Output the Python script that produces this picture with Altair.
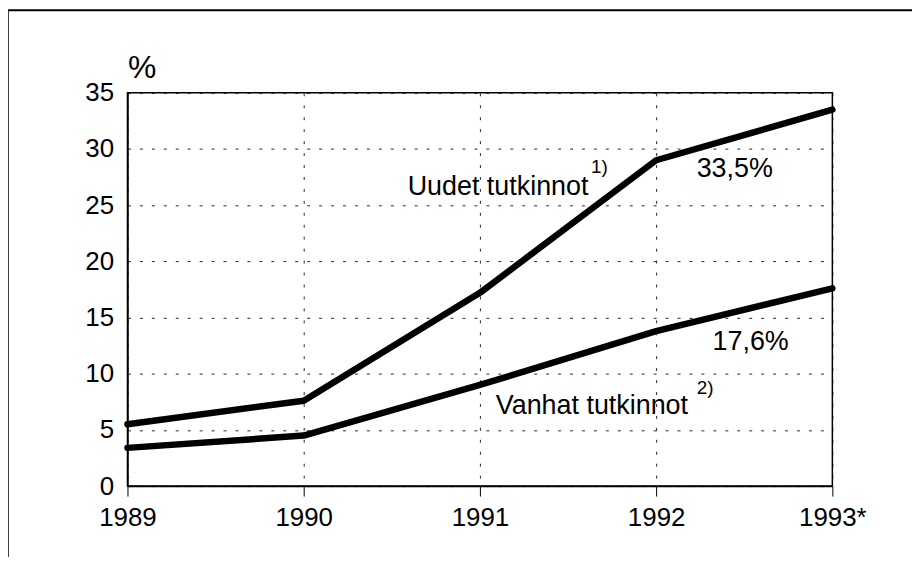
import altair as alt
import pandas as pd

years = [1989, 1990, 1991, 1992, 1993]
uudet = [5.5, 7.6, 17.2, 29.0, 33.5]
vanhat = [3.4, 4.5, 9.0, 13.8, 17.6]
y_ticks = [0, 5, 10, 15, 20, 25, 30, 35]

ann_text = ["Uudet tutkinnot", "33,5%", "Vanhat tutkinnot", "17,6%"]
ann_x = [1990.59, 1992.23, 1991.09, 1992.32]
ann_y = [25.9, 27.5, 6.4, 12.1]
sup_text = ["1)", "2)"]
sup_x = [1991.63, 1992.23]
sup_y = [27.9, 8.2]

FONT = "Liberation Sans"

df = pd.DataFrame({
    "year": years * 2,
    "value": uudet + vanhat,
    "series": ["Uudet tutkinnot"] * len(years) + ["Vanhat tutkinnot"] * len(years),
})
ann = pd.DataFrame({"text": ann_text, "x": ann_x, "y": ann_y})
sup = pd.DataFrame({"text": sup_text, "x": sup_x, "y": sup_y})

xscale = alt.Scale(domain=[1989, 1993], nice=False, zero=False)
yscale = alt.Scale(domain=[0, 35], nice=False)

xaxis = alt.Axis(
    values=years,
    labelExpr="datum.value == 1993 ? '1993*' : format(datum.value, 'd')",
    grid=True, gridColor="black", gridDash=[3, 9], gridWidth=1, gridOpacity=0.85,
    domainColor="black", domainWidth=1.5,
    tickColor="black", tickSize=10, tickWidth=1,
    labelFont=FONT, labelFontSize=26, labelColor="black", labelPadding=9,
    labelFlush=False, title=None,
)
yaxis = alt.Axis(
    values=y_ticks,
    grid=True, gridColor="black", gridDash=[3, 9], gridWidth=1, gridOpacity=0.85,
    domainColor="black", domainWidth=1.5,
    ticks=False, labelFont=FONT, labelFontSize=26, labelColor="black",
    labelPadding=14,
    title="%", titleAngle=0, titleX=0, titleY=-15, titleAlign="left",
    titleBaseline="alphabetic", titleFont=FONT, titleFontSize=32,
    titleFontWeight="normal", titleColor="black",
)

lines = alt.Chart(df).mark_line(
    color="black", strokeWidth=6.5, strokeCap="round", strokeJoin="round"
).encode(
    x=alt.X("year:Q", scale=xscale, axis=xaxis),
    y=alt.Y("value:Q", scale=yscale, axis=yaxis),
    detail="series:N",
)

labels = alt.Chart(ann).mark_text(
    font=FONT, fontSize=27, color="black", align="left", baseline="alphabetic"
).encode(
    x=alt.X("x:Q", scale=xscale),
    y=alt.Y("y:Q", scale=yscale),
    text="text:N",
)

sups = alt.Chart(sup).mark_text(
    font=FONT, fontSize=19, color="black", align="left", baseline="alphabetic"
).encode(
    x=alt.X("x:Q", scale=xscale),
    y=alt.Y("y:Q", scale=yscale),
    text="text:N",
)

frame_left = alt.Chart(pd.DataFrame({"k": [0]})).mark_rule(
    color="black", strokeWidth=1.5
).encode(x=alt.value(-120), y=alt.value(-83), y2=alt.value(500))

frame_top = alt.Chart(pd.DataFrame({"k": [0]})).mark_rule(
    color="black", strokeWidth=2
).encode(x=alt.value(-120), x2=alt.value(800), y=alt.value(-83))

chart = alt.layer(lines, labels, sups, frame_left, frame_top).properties(
    width=708, height=395,
    padding={"left": 120, "top": 84, "right": 80, "bottom": 70},
    autosize=alt.AutoSizeParams(type="none"),
    background="white",
).configure_view(stroke="black", strokeWidth=1.5)

chart.save("out.html", embed_options={"renderer": "svg", "actions": False})
